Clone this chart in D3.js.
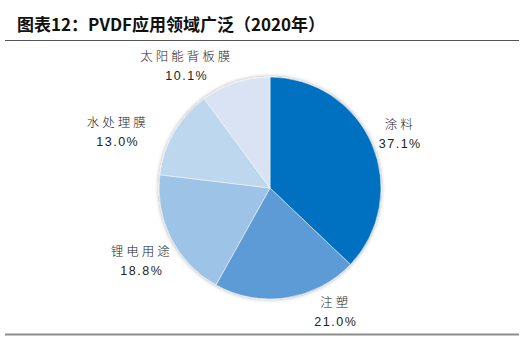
<!DOCTYPE html>
<html><head><meta charset="utf-8">
<script src="https://cdn.jsdelivr.net/npm/d3@7"></script>
<style>
html,body{margin:0;padding:0;background:#fff;}
svg{display:block;}
</style></head>
<body>
<svg id="chart" width="526" height="341"></svg>
<script>
const titleText = "图表12：PVDF应用领域广泛（2020年）";
const categories = ["涂料", "注塑", "锂电用途", "水处理膜", "太阳能背板膜"];
const values = [37.1, 21.0, 18.8, 13.0, 10.1];
const valueLabels = ["37.1%", "21.0%", "18.8%", "13.0%", "10.1%"];
const colors = ["#0070C0", "#5B9BD5", "#9DC3E6", "#BDD7EE", "#DAE3F3"];
// layout: label nudges (px) applied to label anchor on the mid-angle
const labelNudge = [[-3, 3], [44, -19], [1, 7], [-27, 17], [-38, 16]];

const svg = d3.select("#chart");
const cx = 270, cy = 188, R = 111, labelR = 145;

// title
svg.append("text").attr("x", 17).attr("y", 31)
  .attr("font-family", "'Noto Sans CJK SC', sans-serif")
  .attr("font-weight", "bold").attr("font-size", 17).attr("fill", "#111")
  .text(titleText);
svg.append("line").attr("x1", 5).attr("x2", 519).attr("y1", 40.5).attr("y2", 40.5)
  .attr("stroke", "#555").attr("stroke-width", 1);
svg.append("line").attr("x1", 5).attr("x2", 519).attr("y1", 334.5).attr("y2", 334.5)
  .attr("stroke", "#8c8c8c").attr("stroke-width", 2);

const defs = svg.append("defs");
const f = defs.append("filter").attr("id", "sh").attr("x", "-20%").attr("y", "-20%").attr("width", "140%").attr("height", "140%");
f.append("feGaussianBlur").attr("in", "SourceAlpha").attr("stdDeviation", 2);
f.append("feOffset").attr("dx", 0).attr("dy", 0).attr("result", "b");
f.append("feComponentTransfer").append("feFuncA").attr("type", "linear").attr("slope", 0.35);
const m = f.append("feMerge");
m.append("feMergeNode");
m.append("feMergeNode").attr("in", "SourceGraphic");

const pie = d3.pie().sort(null).value(d => d)(values);
const arc = d3.arc().innerRadius(0).outerRadius(R);

const g = svg.append("g").attr("transform", `translate(${cx},${cy})`);
g.append("g").attr("filter", "url(#sh)")
  .selectAll("path").data(pie).join("path")
  .attr("d", arc)
  .attr("fill", (d, i) => colors[i])
  .attr("stroke", "#fff").attr("stroke-width", 0.5);

const lab = g.selectAll("g.lab").data(pie).join("g").attr("class", "lab")
  .attr("transform", (d, i) => {
    const a = (d.startAngle + d.endAngle) / 2;
    const x = labelR * Math.sin(a) + labelNudge[i][0];
    const y = -labelR * Math.cos(a) + labelNudge[i][1];
    return `translate(${x},${y})`;
  });
lab.append("text").attr("y", -5)
  .attr("text-anchor", "middle")
  .attr("font-family", "'Noto Sans CJK SC', sans-serif").attr("font-weight", 300)
  .attr("font-size", 12.5).attr("letter-spacing", 3).attr("fill", "#222")
  .text((d, i) => categories[i]);
lab.append("text").attr("y", 14)
  .attr("text-anchor", "middle")
  .attr("font-family", "'Liberation Sans', Arial, sans-serif")
  .attr("font-size", 12.5).attr("letter-spacing", 1.5).attr("fill", "#222")
  .text((d, i) => valueLabels[i]);
</script>
</body></html>
